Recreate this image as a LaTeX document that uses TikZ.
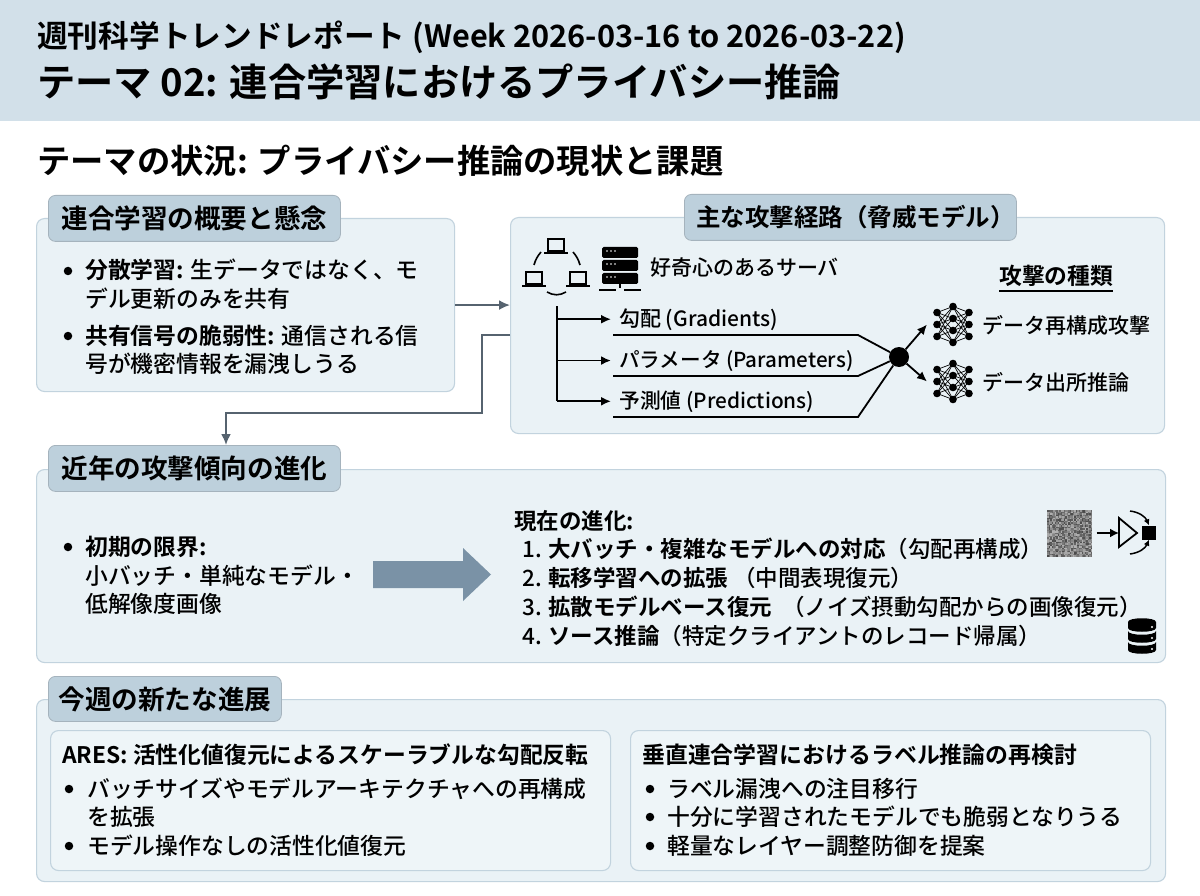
\documentclass[tikz,border=0pt]{standalone}
\usepackage{fontspec}
\setmainfont{Noto Sans CJK JP}[UprightFont=* Medium, BoldFont=* Bold]
\usetikzlibrary{positioning}
\usetikzlibrary{arrows.meta}
\definecolor{bandfill}{HTML}{D2E0E9}
\definecolor{panelfill}{HTML}{EAF2F6}
\definecolor{panelline}{HTML}{C2D3DE}
\definecolor{tabfill}{HTML}{BDD0DC}
\definecolor{flowcol}{HTML}{56636F}
\definecolor{bigarrow}{HTML}{7A92A6}
\newcommand{\fsz}[1]{\fontsize{#1}{#1}\selectfont}

\begin{document}
\begin{tikzpicture}[x=1pt, y=-1pt]

    \useasboundingbox (0, 0) rectangle (1200, 896);
    \fill[white] (0, 0) rectangle (1200, 896);

    % Looks shared by the panels, tabs, texts and connectors
    \tikzset{
        panel/.style={draw=panelline, fill=panelfill, rounded corners=8pt,
            line width=1.1pt, anchor=north west, inner sep=0pt},
        tabbox/.style={draw=panelline!85!black, fill=tabfill, rounded corners=7pt,
            line width=.8pt, anchor=north west, inner sep=0pt, font=\fsz{26.6}\bfseries},
        txt/.style={anchor=base west, inner sep=0pt, font=\fsz{22.8}},
        btxt/.style={txt, font=\fsz{22.8}\bfseries},
        small/.style={txt, font=\fsz{21}},
        item/.style={txt, font=\fsz{22.5}},
        bul/.style={circle, fill=black, inner sep=0pt, minimum size=8.5pt},
        flow/.style={draw=flowcol, line width=2pt, -{Latex[length=11pt, width=10pt]}},
        wire/.style={draw=black, line width=1.8pt},
        tip/.style={wire, -{Latex[length=10pt, width=9pt]}},
        laptop/.pic={
            \draw[line width=1.4pt] (-8, -7) rectangle (8, 5);
            \draw[line width=1.8pt] (-12, 7) -- (12, 7);
        },
        netico/.pic={
            \coordinate (-w) at (-26, 0);
            \foreach \a in {-12, 0, 12}
                \foreach \b in {-18, -6, 6, 18}
                    \draw[line width=.7pt] (-16, \a) -- (0, \b) (16, \a) -- (0, \b);
            \foreach \a in {-12, 0, 12}
                \fill (-16, \a) circle (3.8) (16, \a) circle (3.8);
            \foreach \b in {-18, -6, 6, 18}
                \fill (0, \b) circle (3.8);
        },
    }

    % Header band
    \fill[bandfill] (0, 0) rectangle (1200, 121);
    \node (week) [txt, font=\fsz{30.7}\bfseries] at (37, 48)
    {週刊科学トレンドレポート (Week 2026-03-16 to 2026-03-22)};
    \node (theme) [txt, font=\fsz{38.25}\bfseries] at (37, 97)
    {テーマ 02: 連合学習におけるプライバシー推論};
    \node (status) [txt, font=\fsz{33.3}\bfseries] at (37, 174)
    {テーマの状況: プライバシー推論の現状と課題};

    % Panels, each with its tab on top
    \node (over) [panel, minimum width=418pt, minimum height=173pt] at (36, 218) {};
    \node (threat) [panel, minimum width=654pt, minimum height=216pt] at (510, 217) {};
    \node (trend) [panel, minimum width=1129pt, minimum height=193pt] at (36, 469) {};
    \node (news) [panel, minimum width=1129pt, minimum height=182pt] at (36, 699) {};

    \node (overtab) [tabbox, minimum width=292pt, minimum height=46pt] at (48, 195)
    {連合学習の概要と懸念};
    \node (threattab) [tabbox, minimum width=332pt, minimum height=46pt] at (684, 194)
    {\hspace{10pt}\fsz{24.5}主な攻撃経路（脅威モデル）};
    \node (trendtab) [tabbox, minimum width=292pt, minimum height=46pt] at (48, 445)
    {近年の攻撃傾向の進化};
    \node (newstab) [tabbox, minimum width=233pt, minimum height=45pt] at (48, 676)
    {今週の新たな進展};

    % Overview panel
    \node (ob1) [bul] at (68, 271) {};
    \node (ob2) [bul] at (68, 336) {};
    \node (o1) [txt] at (85, 279)
    {\textbf{分散学習:} 生データではなく、モ};
    \node (o2) [txt] at (85, 307) {デル更新のみを共有};
    \node (o3) [txt] at (85, 344)
    {\textbf{共有信号の脆弱性:} 通信される信};
    \node (o4) [txt] at (85, 372) {号が機密情報を漏洩しうる};

    % Links between the panels
    \coordinate (outb) at (threat.west |- 0, 335);
    \coordinate (bend1) at (482, 335);
    \coordinate (bend2) at (482, 413);
    \coordinate (bend3) at (226, 413);
    \coordinate (inb) at (226, 445);
    \draw[flow] (over.east) -- (threat.west |- over.east);
    \draw[flow] (outb) -- (bend1) -- (bend2) -- (bend3) -- (inb);

    % Devices of the threat panel
    \pic at (556, 246) {laptop};
    \pic at (534, 279) {laptop};
    \pic at (578, 279) {laptop};
    \begin{scope}[line width=1.6pt]
        \draw (534, 265) to[bend left=12] (541, 252);
        \draw (573, 252) to[bend left=12] (580, 265);
        \draw (547, 292) to[bend right=30] (566, 292);
    \end{scope}
    \begin{scope}
        \foreach \yy in {247, 260, 273} {
            \fill[rounded corners=1.5pt] (602, \yy) rectangle (638, \yy + 11);
            \foreach \xx in {607, 611, 615}
                \fill[white] (\xx, \yy + 4) circle (.9);
        }
        \draw[line width=2pt] (620, 283) -- (620, 288);
        \draw[line width=2.4pt] (599, 290) -- (616, 290) (624, 290) -- (641, 290);
    \end{scope}
    \node (server) [small] at (650, 276) {好奇心のあるサーバ};

    % Signals and what they feed
    \node (grad) [small] at (619, 326) {勾配 (Gradients)};
    \node (param) [small, font=\fsz{20.6}] at (619, 367) {パラメータ (Parameters)};
    \node (pred) [small, font=\fsz{20.8}] at (619, 408) {予測値 (Predictions)};
    \coordinate (trunk) at (557, 306);
    \draw[wire] (trunk) -- (trunk |- pred.west);
    \draw[tip, shorten >=8pt] (trunk |- grad.west) -- (grad.west);
    \draw[tip, shorten >=8pt] (trunk |- param.west) -- (param.west);
    \draw[tip, shorten >=8pt] (trunk |- pred.west) -- (pred.west);

    \node (hub) [circle, fill=black, inner sep=0pt, minimum size=20pt] at (899, 357) {};
    \coordinate (gl) at (613, 335);
    \coordinate (pl) at (613, 376);
    \coordinate (rl) at (613, 417);
    \draw[wire] (gl) -- (858, 335) -- (hub);
    \draw[wire] (pl) -- (858, 376) -- (hub);
    \draw[wire] (rl) -- (858, 417) -- (hub);

    \node (kinds) [btxt] at (999, 285) {攻撃の種類};
    \draw[line width=1.2pt] (kinds.west |- 0, 291) -- (kinds.east |- 0, 291);
    \pic (neta) at (953, 324.5) {netico};
    \pic (netb) at (953, 381.5) {netico};
    \draw[tip] (hub) -- (neta-w);
    \draw[tip] (hub) -- (netb-w);
    \node (rebuild) [small] at (982, 333) {データ再構成攻撃};
    \node (source) [small] at (982, 390) {データ出所推論};

    % Trend panel, left side
    \node (tb1) [bul] at (68, 547) {};
    \node (t1) [btxt] at (85, 555) {初期の限界:};
    \node (t2) [txt] at (85, 584) {小バッチ・単純なモデル・};
    \node (t3) [txt] at (85, 612) {低解像度画像};
    \fill[bigarrow] (373, 561) -- (463, 561) -- (463, 548) -- (491, 574.5)
        -- (463, 601) -- (463, 588) -- (373, 588) -- cycle;

    % Trend panel, right side
    \node (now) [item, font=\fsz{22.5}\bfseries] at (514, 529) {現在の進化:};
    \node (n1) [item] at (522, 557) {1. \textbf{大バッチ・複雑なモデルへの対応}（勾配再構成）};
    \node (n2) [item] at (522, 586) {2. \textbf{転移学習への拡張}\hspace{5pt}（中間表現復元）};
    \node (n3) [item] at (522, 615) {3. \textbf{拡散モデルベース復元}\hspace{10pt}（ノイズ摂動勾配からの画像復元）};
    \node (n4) [item] at (522, 644) {4. \textbf{ソース推論}（特定クライアントのレコード帰属）};

    % Noise square and model icon
    \pgfmathsetseed{7}
    \fill[black!50] (1047, 510) rectangle (1092, 556);
    \foreach \i in {0,...,29}
        \foreach \j in {0,...,30} {
            \pgfmathsetmacro{\gr}{int(30 + rnd*42)}
            \fill[black!\gr] (1047 + 1.5*\i, 510 + 1.5*\j) rectangle ++(1.5, 1.5);
        }
    \node (noise) [minimum size=46pt, inner sep=0pt] at (1069.5, 533) {};
    \coordinate (coneb) at (1119, 533);
    \draw[line width=2pt, -{Latex[length=9pt, width=9pt]}] (noise.east) ++(4, 0) -- (coneb);
    \draw[line width=1.8pt] (1119, 518) -- (1119, 547) -- (1137, 533) -- cycle;
    \node (out) [fill=black, minimum size=14pt, inner sep=0pt] at (1149, 532.5) {};
    \draw[line width=1.5pt, -{Latex[length=6pt, width=6pt]}] (1130, 511) to[bend left=30] (out.north);
    \draw[line width=1.5pt, -{Latex[length=6pt, width=6pt]}] (1130, 554) to[bend right=30] (out.south);

    % Database icon
    \begin{scope}[shift={(1142, 0)}]
        \fill (-14, 622) .. controls (-14, 617) and (14, 617) .. (14, 622) -- (14, 628)
            .. controls (14, 633) and (-14, 633) .. (-14, 628) -- cycle;
        \foreach \yy in {631, 642}
            \fill (-14, \yy) .. controls (-14, \yy + 5) and (14, \yy + 5) .. (14, \yy)
                -- (14, \yy + 8) .. controls (14, \yy + 13) and (-14, \yy + 13)
                .. (-14, \yy + 8) -- cycle;
        \foreach \yy in {627, 638, 649}
            \fill[white] (10, \yy) circle (1.1);
    \end{scope}

    % Two boxes of the last panel
    \node (ares) [panel, minimum width=560pt, minimum height=140pt,
        fill=panelfill!80!white] at (50, 730) {};
    \node (vert) [panel, minimum width=520pt, minimum height=140pt,
        fill=panelfill!80!white] at (630, 730) {};

    \node (a0) [txt, font=\fsz{22.8}\bfseries] at (62, 763)
    {ARES: 活性化値復元によるスケーラブルな勾配反転};
    \node (ab1) [bul] at (69, 789) {};
    \node (ab2) [bul] at (69, 846) {};
    \node (a1) [txt] at (87, 797) {バッチサイズやモデルアーキテクチャへの再構成};
    \node (a2) [txt] at (87, 825) {を拡張};
    \node (a3) [txt] at (87, 854) {モデル操作なしの活性化値復元};

    \node (v0) [txt, font=\fsz{22.9}\bfseries] at (642, 763)
    {垂直連合学習におけるラベル推論の再検討};
    \node (vb1) [bul] at (650, 789) {};
    \node (vb2) [bul] at (650, 817) {};
    \node (vb3) [bul] at (650, 846) {};
    \node (v1) [txt] at (667, 797) {ラベル漏洩への注目移行};
    \node (v2) [txt] at (667, 825) {十分に学習されたモデルでも脆弱となりうる};
    \node (v3) [txt] at (667, 854) {軽量なレイヤー調整防御を提案};

\end{tikzpicture}
\end{document}
